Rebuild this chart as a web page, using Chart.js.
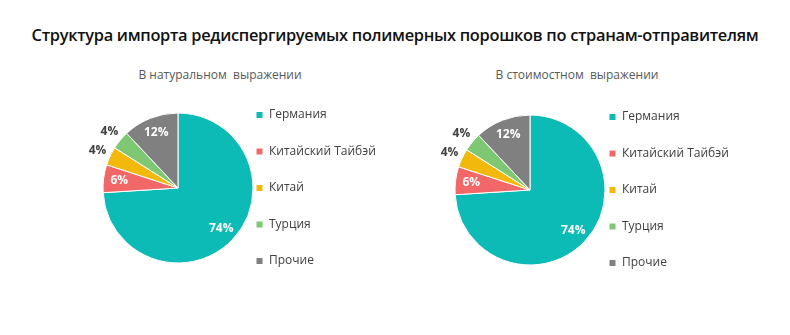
<!DOCTYPE html>
<html>
<head>
<meta charset="utf-8">
<script src="https://cdn.jsdelivr.net/npm/chart.js@4/dist/chart.umd.min.js"></script>
<style>
  html, body { margin: 0; padding: 0; background: #fff; }
  body { width: 790px; height: 335px; position: relative; overflow: hidden; font-family: "Open Sans", "Noto Sans", sans-serif; }
  #title { position: absolute; left: 0; width: 790px; top: 23px; text-align: center; font-weight: 600; font-size: 16.4px; color: #111; letter-spacing: -0.3px; }
  .sub { position: absolute; top: 66px; font-size: 12px; color: #595959; white-space: pre; text-align: center; width: 240px; }
  .box { position: absolute; width: 395px; height: 240px; }
</style>
</head>
<body>
<div id="title">Структура импорта редиспергируемых полимерных порошков по странам-отправителям</div>
<div class="sub" id="sub1" style="left:100px">В натуральном  выражении</div>
<div class="sub" id="sub2" style="left:457px">В стоимостном  выражении</div>
<div class="box" style="left:0; top:68px;"><canvas id="c1" width="395" height="240"></canvas></div>
<div class="box" style="left:395px; top:70px;"><canvas id="c2" width="395" height="240"></canvas></div>
<script>
const categories = ["Германия", "Китайский Тайбэй", "Китай", "Турция", "Прочие"];
const naturalShares = [74, 6, 4, 4, 12];
const valueShares = [74, 6, 4, 4, 12];
const sliceColors = ["#0CBAB6", "#F26868", "#F2B80C", "#7EC873", "#808080"];

const pctLabels = {
  id: 'pctLabels',
  afterDatasetsDraw(chart) {
    const ctx = chart.ctx;
    const meta = chart.getDatasetMeta(0);
    const data = chart.data.datasets[0].data;
    ctx.save();
    ctx.font = 'bold 12px "Open Sans", sans-serif';
    ctx.textAlign = 'center';
    ctx.textBaseline = 'middle';
    meta.data.forEach((arc, i) => {
      const p = arc.getProps(['x','y','startAngle','endAngle','outerRadius'], true);
      const mid = (p.startAngle + p.endAngle) / 2;
      const outside = data[i] < 5;
      const d = outside ? p.outerRadius + 14 : p.outerRadius * 0.79;
      const x = p.x + Math.cos(mid) * d;
      const y = p.y + Math.sin(mid) * d;
      ctx.fillStyle = outside ? '#404040' : '#ffffff';
      ctx.fillText(Math.round(data[i]) + '%', x, y);
    });
    ctx.restore();
  }
};

const LEG_PAD = 24.5;

// centerX: pie centre within canvas; boxX: legend marker left within canvas
function makeChart(id, values, centerX, boxX) {
  const canvasW = 395;
  const legendLeft = boxX - LEG_PAD;
  const chart = new Chart(document.getElementById(id), {
    type: 'pie',
    data: {
      labels: categories,
      datasets: [{
        data: values,
        backgroundColor: sliceColors,
        borderColor: '#ffffff',
        borderWidth: 1,
        hoverOffset: 0,
        radius: 75
      }]
    },
    options: {
      responsive: false,
      animation: false,
      events: [],
      layout: { padding: { left: 2 * centerX - legendLeft, right: 0, top: 0, bottom: 0 } },
      plugins: {
        tooltip: { enabled: false },
        legend: {
          position: 'right',
          align: 'center',
          maxWidth: 400,
          labels: {
            boxWidth: 7,
            boxHeight: 7,
            padding: LEG_PAD,
            color: '#404040',
            font: { family: '"Open Sans", sans-serif', size: 12 }
          }
        }
      }
    },
    plugins: [pctLabels]
  });
  const lw = chart.legend.width;
  chart.options.layout.padding.right = Math.max(0, canvasW - legendLeft - lw);
  chart.update();
  return chart;
}

makeChart('c1', naturalShares, 178, 256);
makeChart('c2', valueShares, 135, 214);
</script>
</body>
</html>
